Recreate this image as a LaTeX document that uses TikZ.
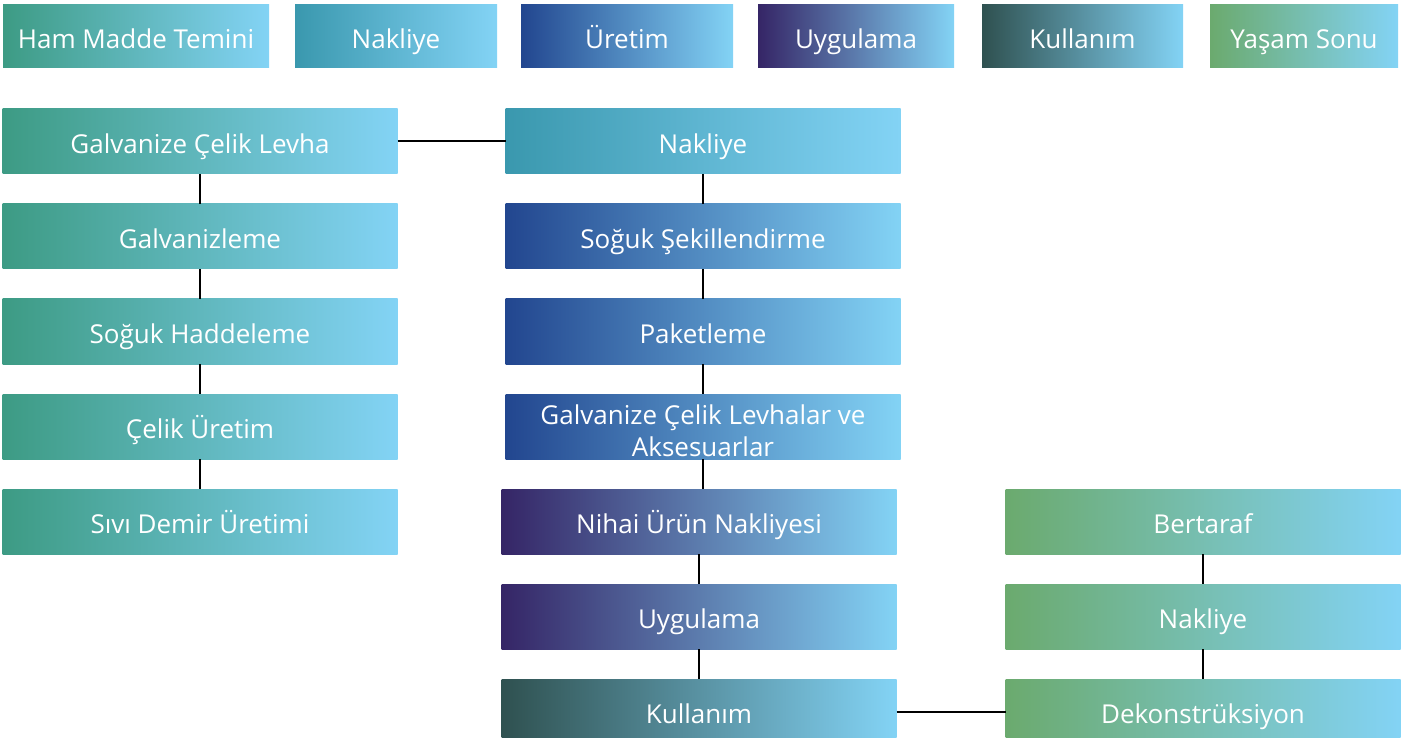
\documentclass[tikz,border=0pt]{standalone}
\usepackage{fontspec}
\setmainfont{Open Sans}
\usetikzlibrary{positioning}
\definecolor{lcgreen}{HTML}{3D9B84}
\definecolor{lcteal}{HTML}{3A98AE}
\definecolor{lcblue}{HTML}{22468F}
\definecolor{lcpurple}{HTML}{352566}
\definecolor{lcslate}{HTML}{2F5150}
\definecolor{lcsage}{HTML}{6BAA6E}
\definecolor{lclight}{HTML}{83D3F5}

\begin{document}
\begin{tikzpicture}[
  x=0.5pt, y=-0.5pt,
  node distance=15pt,
  stagebox/.style={rectangle, inner sep=0pt, outer sep=0pt, left color=#1, right color=lclight,
    text=white, font=\fontsize{13}{16}\selectfont, align=center,
    minimum width=197.5pt, minimum height=32.5pt},
  stage/.style={stagebox=#1, text height=12pt, text depth=0pt},
  tag/.style={stage=#1, minimum height=31.5pt},
  link/.style={draw=black, line width=1pt}
]
  \useasboundingbox (0,0) rectangle (1405,738);

  % legend
  \node[tag=lcgreen, minimum width=133pt] (tagHam) at (136,36.5) {Ham Madde Temini};
  \node[tag=lcteal, minimum width=101pt, right=13pt of tagHam] (tagNak) {Nakliye};
  \node[tag=lcblue, minimum width=106pt, right=12pt of tagNak] (tagUre) {Üretim};
  \node[tag=lcpurple, minimum width=98pt, right=12.5pt of tagUre] (tagUyg) {Uygulama};
  \node[tag=lcslate, minimum width=100.5pt, right=14pt of tagUyg] (tagKul) {Kullanım};
  \node[tag=lcsage, minimum width=94pt, right=13.5pt of tagKul] (tagSon) {Yaşam Sonu};

  % raw material
  \node[stage=lcgreen] (levha) at (200,141.5) {Galvanize Çelik Levha};
  \node[stage=lcgreen, below=of levha] (galv) {Galvanizleme};
  \node[stage=lcgreen, below=of galv] (hadde) {Soğuk Haddeleme};
  \node[stage=lcgreen, below=of hadde] (celik) {Çelik Üretim};
  \node[stage=lcgreen, below=of celik] (demir) {Sıvı Demir Üretimi};

  % transport, production, use
  \node[stage=lcteal, right=54pt of levha] (nakliyeA) {Nakliye};
  \node[stage=lcblue, below=of nakliyeA] (sekil) {Soğuk Şekillendirme};
  \node[stage=lcblue, below=of sekil] (paket) {Paketleme};
  \node[stagebox=lcblue, text height=29.5pt, text depth=0pt, below=of paket] (levhalar) {Galvanize Çelik Levhalar ve\\Aksesuarlar};
  \node[stage=lcpurple, below=of levhalar, xshift=-2pt] (nihai) {Nihai Ürün Nakliyesi};
  \node[stage=lcpurple, below=of nihai] (uyg) {Uygulama};
  \node[stage=lcslate, below=of uyg] (kull) {Kullanım};

  % end of life
  \node[stage=lcsage, right=54.5pt of nihai] (bertaraf) {Bertaraf};
  \node[stage=lcsage, below=of bertaraf] (nakliyeB) {Nakliye};
  \node[stage=lcsage, below=of nakliyeB] (dekon) {Dekonstrüksiyon};

  % connectors
  \draw[link] (levha) -- (nakliyeA);
  \draw[link] (levha) -- (galv);
  \draw[link] (galv) -- (hadde);
  \draw[link] (hadde) -- (celik);
  \draw[link] (celik) -- (demir);
  \draw[link] (nakliyeA) -- (sekil);
  \draw[link] (sekil) -- (paket);
  \draw[link] (paket) -- (levhalar);
  \draw[link] (levhalar.south) -- (levhalar.south |- nihai.north);
  \draw[link] (nihai) -- (uyg);
  \draw[link] (uyg) -- (kull);
  \draw[link] (kull) -- (dekon);
  \draw[link] (bertaraf) -- (nakliyeB);
  \draw[link] (nakliyeB) -- (dekon);
\end{tikzpicture}
\end{document}
